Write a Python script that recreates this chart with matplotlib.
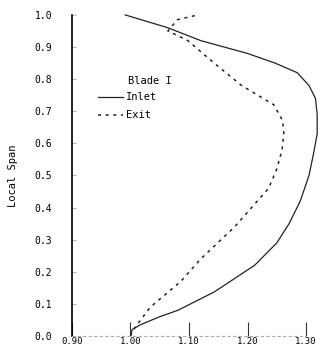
import matplotlib.pyplot as plt

# values
inlet_x = [1.00, 1.003, 1.017, 1.05, 1.081, 1.143, 1.212, 1.25, 1.271, 1.29, 1.305, 1.313, 1.319, 1.319, 1.316, 1.305, 1.285, 1.247, 1.20, 1.12, 1.064, 0.991]
inlet_y = [0.00, 0.02, 0.035, 0.06, 0.08, 0.137, 0.22, 0.29, 0.35, 0.42, 0.50, 0.57, 0.63, 0.69, 0.74, 0.78, 0.82, 0.85, 0.88, 0.92, 0.96, 1.00]

exit_x = [1.00, 1.005, 1.034, 1.086, 1.12, 1.178, 1.236, 1.25, 1.259, 1.262, 1.26, 1.245, 1.19, 1.143, 1.098, 1.064, 1.08, 1.115]
exit_y = [0.00, 0.02, 0.09, 0.17, 0.24, 0.34, 0.46, 0.52, 0.58, 0.63, 0.67, 0.72, 0.78, 0.85, 0.92, 0.95, 0.985, 1.00]

xticks = [0.90, 1.00, 1.10, 1.20, 1.30]
xlabels = ["0.90", "1.00", "1.10", "1.20", "1.30"]
yticks = [0.0, 0.1, 0.2, 0.3, 0.4, 0.5, 0.6, 0.7, 0.8, 0.9, 1.0]


def main():
    plt.rcParams["font.family"] = "DejaVu Sans Mono"
    fig = plt.figure(figsize=(3.27, 3.64), dpi=100)
    ax = fig.add_axes([0.220, 0.077, 0.716, 0.882])

    ax.plot(inlet_x, inlet_y, "-", color="#222222", lw=0.9, label="Inlet",
            clip_on=False)
    ax.plot(exit_x, exit_y, color="#222222", lw=1.1, ls=(0, (2, 3)),
            label="Exit", clip_on=False)

    ax.set_xlim(0.90, 1.30)
    ax.set_ylim(0.0, 1.0)
    ax.set_xticks(xticks)
    ax.set_xticklabels(xlabels)
    ax.set_yticks(yticks)
    ax.set_yticklabels(["%.1f" % v for v in yticks])

    for s in ["top", "right"]:
        ax.spines[s].set_visible(False)
    ax.spines["left"].set_color("black")
    ax.spines["left"].set_linewidth(1.2)
    ax.spines["bottom"].set_color("#aaaaaa")
    ax.spines["bottom"].set_linestyle((0, (2, 3)))
    ax.spines["bottom"].set_linewidth(0.8)

    ax.tick_params(axis="x", direction="in", length=10, color="#333333",
                   labelsize=6.5, pad=1)
    ax.tick_params(axis="y", direction="in", length=3, color="#bbbbbb",
                   labelsize=7, pad=14)

    ax.set_ylabel("Local Span", fontsize=7.5, labelpad=12)

    ax.text(0.995, 0.795, "Blade I", fontsize=7.5, ha="left", va="center")
    ax.legend(loc="upper left", bbox_to_anchor=(0.09, 0.775), frameon=False,
              fontsize=7.5, handlelength=2.4, handletextpad=0.3,
              labelspacing=0.75, borderpad=0)

    fig.savefig("out.png", dpi=100)


if __name__ == "__main__":
    main()
